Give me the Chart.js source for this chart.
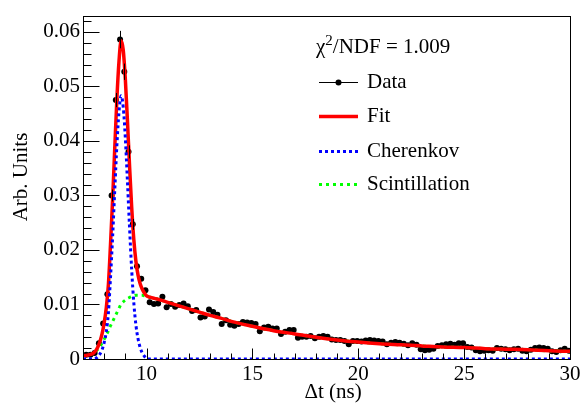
<!doctype html>
<html lang="en">
<head>
  <meta charset="utf-8" />
  <title>Cherenkov / Scintillation fit</title>
  <script src="https://cdn.jsdelivr.net/npm/chart.js"></script>
  <style>
    body { margin: 0; background: #fff; }
  </style>
</head>
<body>
  <canvas id="fitChart" width="585" height="404"></canvas>

  <script>
    // Measured histogram: bin centres (ns) and contents
    const dataT = [
      7.15, 7.35, 7.55, 7.75, 7.95, 8.15, 8.35, 8.55, 8.75, 8.95, 9.15, 9.35, 9.55, 9.75, 9.95,
      10.15, 10.35, 10.55, 10.75, 10.95, 11.15, 11.35, 11.55, 11.75, 11.95,
      12.15, 12.35, 12.55, 12.75, 12.95, 13.15, 13.35, 13.55, 13.75, 13.95,
      14.15, 14.35, 14.55, 14.75, 14.95, 15.15, 15.35, 15.55, 15.75, 15.95,
      16.15, 16.35, 16.55, 16.75, 16.95, 17.15, 17.35, 17.55, 17.75, 17.95,
      18.15, 18.35, 18.55, 18.75, 18.95, 19.15, 19.35, 19.55, 19.75, 19.95,
      20.15, 20.35, 20.55, 20.75, 20.95, 21.15, 21.35, 21.55, 21.75, 21.95,
      22.15, 22.35, 22.55, 22.75, 22.95, 23.15, 23.35, 23.55, 23.75, 23.95,
      24.15, 24.35, 24.55, 24.75, 24.95, 25.15, 25.35, 25.55, 25.75, 25.95,
      26.15, 26.35, 26.55, 26.75, 26.95, 27.15, 27.35, 27.55, 27.75, 27.95,
      28.15, 28.35, 28.55, 28.75, 28.95, 29.15, 29.35, 29.55, 29.75, 29.95
    ];
    const dataY = [
      0.0008, 0.0008, 0.0011, 0.0029, 0.0065, 0.0119, 0.0300, 0.0475, 0.0586, 0.0527, 0.0380, 0.0247, 0.0170, 0.0147, 0.0126,
      0.0104, 0.0101, 0.0102, 0.0114, 0.0095, 0.0101, 0.0096, 0.0099, 0.0102, 0.0097,
      0.0088, 0.0090, 0.0076, 0.0078, 0.0091, 0.0086, 0.0081, 0.0064, 0.0071, 0.0063,
      0.0061, 0.0064, 0.0068, 0.0067, 0.0066, 0.0064, 0.0051, 0.0058, 0.0059, 0.0056,
      0.0056, 0.0046, 0.0050, 0.0053, 0.0053, 0.0039, 0.0041, 0.0041, 0.0042, 0.0038,
      0.0041, 0.0042, 0.0041, 0.0036, 0.0035, 0.0035, 0.0033, 0.0027, 0.0033, 0.0033,
      0.0032, 0.0034, 0.0035, 0.0034, 0.0033, 0.0032, 0.0027, 0.0030, 0.0031, 0.0030,
      0.0028, 0.0025, 0.0029, 0.0026, 0.0018, 0.0016, 0.0017, 0.0019, 0.0024, 0.0025,
      0.0027, 0.0028, 0.0026, 0.0029, 0.0029, 0.0022, 0.0021, 0.0016, 0.0014, 0.0015,
      0.0016, 0.0015, 0.0020, 0.0019, 0.0018, 0.0016, 0.0018, 0.0019, 0.0015, 0.0014,
      0.0017, 0.0020, 0.0021, 0.0020, 0.0019, 0.0014, 0.0013, 0.0016, 0.0019, 0.0015
    ];
    // error bars that stick out of the markers (peak region)
    const errT = [8.35, 8.55, 8.75, 8.95, 9.15, 9.35];
    const errY = [0.0011, 0.0013, 0.0016, 0.0015, 0.0012, 0.0010];

    // Fit components sampled along t (ns)
    const curveT = [
      7.0, 7.2, 7.4, 7.5, 7.6, 7.7, 7.8, 7.9, 8.0, 8.1, 8.2, 8.3, 8.4, 8.5, 8.6, 8.7, 8.8, 8.9,
      9.0, 9.1, 9.2, 9.3, 9.4, 9.5, 9.6, 9.7, 9.8, 9.9, 10.0, 10.1, 10.2,
      10.5, 11, 11.5, 12, 12.5, 13, 13.5, 14,
      15, 16, 17, 18, 19, 20, 21, 22, 23, 24, 25, 26, 27, 28, 29, 30
    ];
    const cherenkovY = [
      0, 0, 0, 0, 0.0001, 0.0004, 0.0009, 0.0017, 0.0030, 0.0050, 0.0085, 0.0150, 0.0225, 0.0310, 0.0392, 0.0453, 0.0483, 0.0462,
      0.0405, 0.0325, 0.0240, 0.0163, 0.0103, 0.0062, 0.0037, 0.0021, 0.0011, 0.0005, 0.0001, 0, 0,
      0, 0, 0, 0, 0, 0, 0, 0,
      0, 0, 0, 0, 0, 0, 0, 0, 0, 0, 0, 0, 0, 0, 0, 0
    ];
    const scintY = [
      0.0006, 0.0007, 0.0009, 0.0011, 0.0014, 0.0018, 0.0023, 0.0029, 0.0036, 0.0044, 0.0052, 0.0061, 0.0069, 0.0077, 0.0085, 0.0093, 0.0101, 0.0105,
      0.0108, 0.0111, 0.0113, 0.0115, 0.0116, 0.0117, 0.0117, 0.0117, 0.0117, 0.0116, 0.0115, 0.0114, 0.0113,
      0.0110, 0.0104, 0.0098, 0.0092, 0.0086, 0.0080, 0.0075, 0.0069,
      0.0060, 0.0052, 0.0046, 0.0040, 0.0035, 0.0031, 0.0028, 0.0026, 0.0024, 0.0022, 0.0021, 0.0019, 0.0018, 0.0017, 0.0015, 0.0014
    ];
    const fitY = [
      0.0006, 0.0007, 0.0009, 0.0011, 0.0015, 0.0022, 0.0032, 0.0046, 0.0066, 0.0094, 0.0137, 0.0211, 0.0294, 0.0387, 0.0477, 0.0546, 0.0584, 0.0567,
      0.0513, 0.0436, 0.0353, 0.0278, 0.0219, 0.0179, 0.0154, 0.0138, 0.0128, 0.0121, 0.0116, 0.0114, 0.0113,
      0.0110, 0.0104, 0.0098, 0.0092, 0.0086, 0.0080, 0.0075, 0.0069,
      0.0060, 0.0052, 0.0046, 0.0040, 0.0035, 0.0031, 0.0028, 0.0026, 0.0024, 0.0022, 0.0021, 0.0019, 0.0018, 0.0017, 0.0015, 0.0014
    ];

    const xTicks = [10, 15, 20, 25, 30];
    const yTicks = [0, 0.01, 0.02, 0.03, 0.04, 0.05, 0.06];

    const FONT = '"Liberation Serif", "Times New Roman", serif';
    const FS = 21;

    const pts = (xs, ys) => xs.map((x, i) => ({ x: x, y: ys[i] }));

    // ROOT-like frame: box, inward ticks, titles, legend, error bars
    const rootStyle = {
      id: 'rootStyle',
      afterDatasetsDraw(chart) {
        const { ctx, scales: { x, y } } = chart;
        ctx.save();
        ctx.strokeStyle = '#000';
        ctx.lineWidth = 1;
        errT.forEach((t, i) => {
          const v = dataY[dataT.indexOf(t)];
          const px = Math.round(x.getPixelForValue(t)) + 0.5;
          ctx.beginPath();
          ctx.moveTo(px, y.getPixelForValue(v - errY[i]));
          ctx.lineTo(px, y.getPixelForValue(v + errY[i]));
          ctx.stroke();
        });
        ctx.restore();
      },
      afterDraw(chart) {
        const { ctx, chartArea: a, scales: { x, y } } = chart;
        const L = Math.round(a.left) + 0.5, R = Math.round(a.right) + 0.5;
        const T = Math.round(a.top) + 0.5, B = Math.round(a.bottom) + 0.5;
        ctx.save();
        ctx.strokeStyle = '#000';
        ctx.lineWidth = 1;
        ctx.strokeRect(L, T, R - L, B - T);

        ctx.beginPath();
        for (let t = 7; t <= 30; t += 1) {
          const px = Math.round(x.getPixelForValue(t)) + 0.5;
          const len = t % 5 === 0 ? 11 : 6;
          ctx.moveTo(px, B);
          ctx.lineTo(px, B - len);
        }
        for (let k = 0; k <= 31; k++) {
          const py = Math.round(y.getPixelForValue(k * 0.002)) + 0.5;
          const len = k % 5 === 0 ? 16 : 8;
          ctx.moveTo(L, py);
          ctx.lineTo(L + len, py);
        }
        ctx.stroke();

        ctx.fillStyle = '#000';
        ctx.font = FS + 'px ' + FONT;

        // axis titles
        ctx.textAlign = 'center';
        ctx.textBaseline = 'middle';
        ctx.fillText('\u0394t (ns)', 333, 392);
        ctx.save();
        ctx.translate(21, 177);
        ctx.rotate(-Math.PI / 2);
        ctx.fillText('Arb. Units', 0, 0);
        ctx.restore();

        // chi2 text
        ctx.textAlign = 'left';
        ctx.textBaseline = 'alphabetic';
        let tx = 316;
        ctx.fillText('\u03c7', tx, 53);
        tx += ctx.measureText('\u03c7').width;
        ctx.font = '15px ' + FONT;
        ctx.fillText('2', tx, 45);
        tx += ctx.measureText('2').width;
        ctx.font = FS + 'px ' + FONT;
        ctx.fillText('/NDF = 1.009', tx, 53);

        // legend
        const x0 = 319, x1 = 358, textX = 367;
        const rows = [
          { y: 82, label: 'Data' },
          { y: 116, label: 'Fit', color: '#ff0000', width: 3.5, dash: [] },
          { y: 151, label: 'Cherenkov', color: '#0000ff', width: 3, dash: [3, 3] },
          { y: 184, label: 'Scintillation', color: '#00ff00', width: 3, dash: [3, 4] }
        ];
        rows.forEach(r => {
          ctx.beginPath();
          if (r.color) {
            ctx.strokeStyle = r.color;
            ctx.lineWidth = r.width;
            ctx.setLineDash(r.dash);
          } else {
            ctx.strokeStyle = '#000';
            ctx.lineWidth = 1;
            ctx.setLineDash([]);
          }
          ctx.moveTo(x0, r.y + 0.5);
          ctx.lineTo(x1, r.y + 0.5);
          ctx.stroke();
          ctx.setLineDash([]);
          if (!r.color) {
            ctx.beginPath();
            ctx.arc((x0 + x1) / 2, r.y + 0.5, 3, 0, Math.PI * 2);
            ctx.fill();
          }
          ctx.fillText(r.label, textX, r.y + 6);
        });
        ctx.restore();
      }
    };

    const ctx = document.getElementById('fitChart').getContext('2d');
    new Chart(ctx, {
      type: 'line',
      data: {
        datasets: [
          {
            label: 'Cherenkov',
            data: pts(curveT, cherenkovY),
            borderColor: '#0000ff',
            borderWidth: 3,
            borderDash: [3, 3],
            pointRadius: 0,
            cubicInterpolationMode: 'monotone',
            order: 0
          },
          {
            label: 'Fit',
            data: pts(curveT, fitY),
            borderColor: '#ff0000',
            borderWidth: 3.5,
            pointRadius: 0,
            cubicInterpolationMode: 'monotone',
            order: 1
          },
          {
            label: 'Scintillation',
            data: pts(curveT, scintY),
            borderColor: '#00ff00',
            borderWidth: 3,
            borderDash: [3, 4],
            pointRadius: 0,
            cubicInterpolationMode: 'monotone',
            order: 2
          },
          {
            label: 'Data',
            data: pts(dataT, dataY),
            showLine: false,
            pointRadius: 3,
            pointBackgroundColor: '#000',
            pointBorderWidth: 0,
            order: 3
          }
        ]
      },
      options: {
        responsive: false,
        animation: false,
        devicePixelRatio: 1,
        layout: { padding: { top: 9, right: 15, bottom: 0, left: 0 } },
        plugins: { legend: { display: false }, tooltip: { enabled: false } },
        scales: {
          x: {
            type: 'linear',
            min: 7,
            max: 30,
            grid: { display: false, drawTicks: false },
            border: { display: false },
            afterBuildTicks: s => { s.ticks = xTicks.map(v => ({ value: v })); },
            afterFit: s => { s.height = 45; },
            ticks: {
              autoSkip: false,
              maxRotation: 0,
              padding: 3,
              color: '#000',
              font: { family: FONT, size: FS },
              callback: v => String(v)
            }
          },
          y: {
            type: 'linear',
            min: 0,
            max: 0.063,
            grid: { display: false, drawTicks: false },
            border: { display: false },
            afterBuildTicks: s => { s.ticks = yTicks.map(v => ({ value: v })); },
            afterFit: s => { s.width = 83; },
            ticks: {
              autoSkip: false,
              padding: 3,
              color: '#000',
              font: { family: FONT, size: FS },
              callback: v => (v === 0 ? '0' : v.toFixed(2))
            }
          }
        }
      },
      plugins: [rootStyle]
    });
  </script>
</body>
</html>
